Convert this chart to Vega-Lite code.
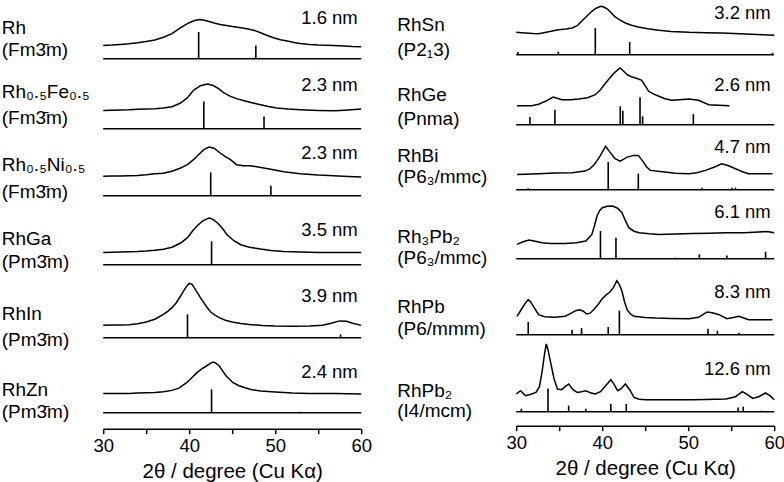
{
"$schema":"https://vega.github.io/schema/vega-lite/v6.json",
"padding":{"left":1.2,"top":2.7,"right":6,"bottom":6},
"config":{"font":"Liberation Sans","view":{"stroke":null},"axis":{"grid":false,"domainColor":"black","tickColor":"black","labelColor":"black","titleColor":"black","labelFontSize":18.5,"titleFontSize":20.5,"titleFontWeight":"normal","domainWidth":1.5,"tickWidth":1.5,"tickSize":5,"labelPadding":3,"titlePadding":6,"labelFlush":false}},
"datasets":{"d":[
{"s":"Rh","k":"p","x":[30,31,32,33,34,35,36,37,38,39,40,40.7,41.3,42,42.5,43,43.6,44.5,45.2,46,46.7,47.5,48.3,49,49.8,50.6,51.4,52.2,52.9,54,55,56.8,58,59,60],"y":[13.3,13.6,14.3,15,16,17.2,18.8,21.5,25,31,36,38.5,39.3,38,36.7,35.5,34.3,33,32,31,30,28.5,26,23.5,21,19,17.7,16.3,15.3,14.3,13.7,13.3,12.8,12.3,12]},
{"s":"Rh","k":"s","x":[41.1,47.75],"y":[26.7,13.3]},
{"s":"Rh","k":"t","size":"1.6 nm","l1":"Rh","l2":"(Fm3\u0304m)"},
{"s":"Fe","k":"p","x":[30,31,32,33,34,35,36,37,38,39,39.8,40.5,41.3,42.1,42.7,43.3,44,44.8,45.6,46.4,47.3,48.3,49.2,50.2,51.5,52.9,55,57,58.5,60],"y":[18.3,18.5,18.8,19,19.5,19.8,20,20.8,22,25.7,31,38.3,43,44.7,43.5,40.7,36,32.3,29.8,28,26,24,22.2,20.7,19.7,19,18.3,18,18.8,19.7]},
{"s":"Fe","k":"s","x":[41.7,48.7],"y":[27.3,12.3]},
{"s":"Fe","k":"t","size":"2.3 nm","l1":"Rh\u2080.\u2085Fe\u2080.\u2085","l2":"(Fm3\u0304m)"},
{"s":"Ni","k":"p","x":[30,31,32,33,34,35,36,37,38,39,39.8,40.5,41.2,41.7,42.3,42.9,43.6,44.2,44.8,45.5,46.3,47,47.5,48.5,49.8,51,52.9,55,56.8,58.5,60],"y":[19.4,19.6,19.8,20,20.3,21,22,22.5,24.5,27.7,31,36,42,46,48.7,47.5,42.7,39,36,31,30,30,29.4,28,26,24,22,20.7,20,19.3,18.7]},
{"s":"Ni","k":"s","x":[42.5,49.5],"y":[23.3,10]},
{"s":"Ni","k":"t","size":"2.3 nm","l1":"Rh\u2080.\u2085Ni\u2080.\u2085","l2":"(Fm3\u0304m)"},
{"s":"Ga","k":"p","x":[30,31,32,33,34,35,36,37,38,39,39.8,40.5,41,41.5,42.1,42.4,42.8,43.3,43.9,44.4,45.2,46,47,48.3,49.5,51,53,55,57,60],"y":[12.3,12.5,12.7,13,13.3,13.8,14.5,15.5,17.5,21.7,27,35,39.5,43.3,46,46.7,45,41.7,36,30,24,20,17.5,15.7,14.3,13.3,12.7,12.3,12.3,12.3]},
{"s":"Ga","k":"s","x":[42.6],"y":[23.3]},
{"s":"Ga","k":"t","size":"3.5 nm","l1":"RhGa","l2":"(Pm3\u0304m)"},
{"s":"In","k":"p","x":[30,31,32,33,34,35,36,37,37.5,38,38.5,39,39.3,39.6,39.8,40,40.3,40.5,40.8,41,41.3,41.7,42.1,42.5,43,43.5,44.2,45,46,47,48.5,50,52,54,55.5,56.5,57.5,58.3,59,60],"y":[12.5,12.6,12.8,13,14,15.7,18.5,23.3,26.3,30,35,41.7,46,50,52.5,54.3,53.5,51,47,44.3,40,35,30,25.7,22.5,20,17.5,15.7,14.3,13.3,12.3,11.7,11.5,11.7,12.5,14.5,16.8,16.5,14.5,12.3]},
{"s":"In","k":"s","x":[39.8,57.6],"y":[23.3,3.3]},
{"s":"In","k":"t","size":"3.9 nm","l1":"RhIn","l2":"(Pm3\u0304m)"},
{"s":"Zn","k":"p","x":[30,31,32,33,34,35,36,37,38,38.8,39.7,40.3,40.9,41.5,42,42.5,42.8,43.1,43.5,43.9,44.3,45.1,45.8,46.5,47.3,48.3,50,52,54,57,60],"y":[19.3,19.3,19.3,19.3,19.6,20,20.3,21,22.3,24.5,30,35,40,44,46.7,49.5,50.7,49.5,46.7,41.5,36.7,30,27,25,23,21.7,20.7,19.8,19.3,19.3,18.7]},
{"s":"Zn","k":"s","x":[42.6,52.9],"y":[23.3,1]},
{"s":"Zn","k":"t","size":"2.4 nm","l1":"RhZn","l2":"(Pm3\u0304m)"},
{"s":"Sn","k":"p","x":[30,31,32,32.6,33.5,34.9,35.8,36.5,37.1,37.6,38.2,38.8,39.3,39.8,40.2,40.6,41,41.5,42.1,42.7,43.4,44.2,45.3,46.6,48,50.1,52,53.9,56,58,60],"y":[22.4,21.8,21.2,21,22.5,25,25.8,26.7,29,33.4,38.5,43.4,46.5,48.4,47.7,45.7,42.5,37.7,34.5,31.7,29.5,27.7,26,24.4,23.3,22.4,22,21.7,21,20.3,19.4]},
{"s":"Sn","k":"s","x":[30.2,34.9,39.2,43.2,59.8],"y":[2.7,3,26.7,12.7,2]},
{"s":"Sn","k":"t","size":"3.2 nm","l1":"RhSn","l2":"(P2\u20813)"},
{"s":"Ge","k":"p","x":[30.1,31,31.8,32.6,33.4,34.3,35.3,36.3,37.3,38.3,39.2,39.8,40.4,41.3,41.7,42.1,42.5,42.9,43.4,43.9,44.6,45,45.4,46,46.6,47.3,48.1,49,50.1,51.2,52.4,53.5,54.8],"y":[19,19,19,20.5,23.4,27.7,25,25,25.7,27,30,35,41.7,51,54,56.7,53.5,50,48,46.7,44.4,39,33.4,30.5,28.4,26,24.4,25,25.7,24.4,20,19.5,19]},
{"s":"Ge","k":"s","x":[31.6,34.5,42.1,42.4,44.4,44.7,50.6],"y":[7.7,15,18.4,14,27.4,8.4,10.7]},
{"s":"Ge","k":"t","size":"2.6 nm","l1":"RhGe","l2":" (Pnma)"},
{"s":"Bi","k":"p","x":[30.1,31,32.6,34.5,36.5,38,38.5,39,39.4,39.8,40.1,40.4,40.9,41.5,42.1,42.5,42.9,43.7,44.2,44.8,45.2,45.6,47.3,48.5,50.1,51,52,53,53.9,54.7,55.5,56.3,57,58.5,59.8],"y":[15.3,15.5,16,16.6,17,18.6,20.5,24.3,29,34.3,39,43.3,37.6,31,28.6,30.5,32.6,34.3,34.3,27.6,22.5,19.3,17.6,16.5,16,17,19.3,22.5,26,24,21,18,16,16,16]},
{"s":"Bi","k":"s","x":[31.4,40.7,44.2,51.6,55.1,55.5],"y":[1.5,27.6,16,2,2,2]},
{"s":"Bi","k":"t","size":"4.7 nm","l1":"RhBi","l2":"(P6\u2083/mmc)"},
{"s":"R3P2","k":"p","x":[30.1,30.8,31.5,32.2,33,34,35.7,37,38.1,38.8,39.1,39.4,39.7,40,40.6,41.2,41.8,42.3,42.7,43.1,43.7,44.3,45.5,46.6,48.5,50.5,52.5,54.4,56.5,58.2,59.2,60],"y":[14.3,17,18.7,17.5,16,15.3,15.3,16,17.7,24.3,33,42.7,48,51,52.5,52.7,50.5,46,38,31,27.5,26,25,24.3,24.7,25.3,25.5,26,26,26.7,27.3,26]},
{"s":"R3P2","k":"s","x":[39.8,41.6,48.5,51.3,54.5,59],"y":[27.7,21,1,4.3,3.3,7]},
{"s":"R3P2","k":"t","size":"6.1 nm","l1":"Rh\u2083Pb\u2082","l2":"(P6\u2083/mmc)"},
{"s":"RP","k":"p","x":[30.1,30.7,31.1,31.4,31.7,32,32.6,33.3,34.5,35.7,36.3,36.9,37.4,37.8,38.2,38.6,39,39.5,40,40.5,40.9,41.3,41.7,42,42.3,42.6,42.9,43.3,43.7,45,46.2,48,50.1,51.2,51.8,52.2,52.8,53.6,54.5,55.4,55.9,56.4,57,58.5,59.8],"y":[18.4,26.7,32,35,32.5,28.4,20,18,17.4,18.4,21,24,25,23.5,20.7,21.5,25,30,36,40,42.7,47,54,50,43.4,33,25,20.5,18.4,17.2,16.7,16.3,16,17.4,20.5,22.7,22,20,16,17.5,18.4,17,15,15,15]},
{"s":"RP","k":"s","x":[31.4,36.5,37.6,40.7,42,52.3,53.4,55.9],"y":[12.7,5,6.7,7.7,24,6,4,2]},
{"s":"RP","k":"t","size":"8.3 nm","l1":"RhPb","l2":"(P6/mmm)"},
{"s":"RP2","k":"p","x":[30,30.5,31.1,31.7,32.3,32.7,33,33.3,33.5,33.7,34,34.4,34.8,35.3,35.7,36.1,36.6,37.1,37.6,38.1,38.6,39.2,39.8,40.4,41,41.4,41.8,42.2,42.7,43.2,43.7,44.3,45.1,47,50.5,52,54.4,55.5,56.3,56.9,57.5,58.2,59,59.5,60],"y":[17.7,21,16,17.5,19.3,25,39.3,58,67.7,62,49.3,33,22.7,22,25,27.7,22,19.3,20,21,19,17.7,20,26,32,27,21,23,27.7,22,14.3,12.5,12,12,12,12.3,12.7,15,20,17,13.3,15,18.7,16,12]},
{"s":"RP2","k":"s","x":[30.6,33.7,36.1,38.1,41,42.8,55.8,56.4,58.6],"y":[3,23.3,6,3,7.7,7.7,4.3,5,1]},
{"s":"RP2","k":"t","size":"12.6 nm","l1":"RhPb\u2082","l2":"(I4/mcm)"}
]},
"hconcat":[
{"vconcat":[
{"height":50,"width":258,"data":{"name":"d"},"transform":[{"filter":"datum.s==='Rh'"}],"layer":[
{"transform":[{"filter":"datum.k==='p'"},{"flatten":["x","y"]}],"mark":{"type":"line","stroke":"black","strokeWidth":1.5},"encoding":{"x":{"field":"x","type":"quantitative","scale":{"domain":[30,60],"nice":false,"zero":false},"axis":null},"y":{"field":"y","type":"quantitative","scale":{"domain":[0,50],"nice":false},"axis":null}}},
{"transform":[{"filter":"datum.k==='s'"},{"flatten":["x","y"]}],"mark":{"type":"rule","stroke":"black","strokeWidth":1.6},"encoding":{"x":{"field":"x","type":"quantitative","axis":null},"y":{"field":"y","type":"quantitative","axis":null},"y2":{"datum":0}}},
{"transform":[{"filter":"datum.k==='t'"}],"mark":{"type":"rule","stroke":"black","strokeWidth":1.6},"encoding":{"y":{"datum":0,"type":"quantitative","axis":null}}},
{"transform":[{"filter":"datum.k==='t'"}],"mark":{"type":"text","align":"right","baseline":"middle","fontSize":18.5},"encoding":{"text":{"field":"size","type":"nominal"},"x":{"datum":59.6,"type":"quantitative","axis":null},"y":{"datum":41,"type":"quantitative","axis":null}}},
{"transform":[{"filter":"datum.k==='t'"}],"mark":{"type":"text","align":"left","baseline":"alphabetic","fontSize":19},"encoding":{"text":{"field":"l1","type":"nominal"},"x":{"datum":18.2,"type":"quantitative","axis":null},"y":{"datum":25,"type":"quantitative","axis":null}}},
{"transform":[{"filter":"datum.k==='t'"}],"mark":{"type":"text","align":"left","baseline":"alphabetic","fontSize":19},"encoding":{"text":{"field":"l2","type":"nominal"},"x":{"datum":18.2,"type":"quantitative","axis":null},"y":{"datum":2.2,"type":"quantitative","axis":null}}}
]},
{"height":70,"width":258,"data":{"name":"d"},"transform":[{"filter":"datum.s==='Fe'"}],"layer":[
{"transform":[{"filter":"datum.k==='p'"},{"flatten":["x","y"]}],"mark":{"type":"line","stroke":"black","strokeWidth":1.5},"encoding":{"x":{"field":"x","type":"quantitative","scale":{"domain":[30,60],"nice":false,"zero":false},"axis":null},"y":{"field":"y","type":"quantitative","scale":{"domain":[0,70],"nice":false},"axis":null}}},
{"transform":[{"filter":"datum.k==='s'"},{"flatten":["x","y"]}],"mark":{"type":"rule","stroke":"black","strokeWidth":1.6},"encoding":{"x":{"field":"x","type":"quantitative","axis":null},"y":{"field":"y","type":"quantitative","axis":null},"y2":{"datum":0}}},
{"transform":[{"filter":"datum.k==='t'"}],"mark":{"type":"rule","stroke":"black","strokeWidth":1.6},"encoding":{"y":{"datum":0,"type":"quantitative","axis":null}}},
{"transform":[{"filter":"datum.k==='t'"}],"mark":{"type":"text","align":"right","baseline":"middle","fontSize":18.5},"encoding":{"text":{"field":"size","type":"nominal"},"x":{"datum":59.6,"type":"quantitative","axis":null},"y":{"datum":44,"type":"quantitative","axis":null}}},
{"transform":[{"filter":"datum.k==='t'"}],"mark":{"type":"text","align":"left","baseline":"alphabetic","fontSize":19},"encoding":{"text":{"field":"l1","type":"nominal"},"x":{"datum":18.2,"type":"quantitative","axis":null},"y":{"datum":31,"type":"quantitative","axis":null}}},
{"transform":[{"filter":"datum.k==='t'"}],"mark":{"type":"text","align":"left","baseline":"alphabetic","fontSize":19},"encoding":{"text":{"field":"l2","type":"nominal"},"x":{"datum":18.2,"type":"quantitative","axis":null},"y":{"datum":4.5,"type":"quantitative","axis":null}}}
]},
{"height":67,"width":258,"data":{"name":"d"},"transform":[{"filter":"datum.s==='Ni'"}],"layer":[
{"transform":[{"filter":"datum.k==='p'"},{"flatten":["x","y"]}],"mark":{"type":"line","stroke":"black","strokeWidth":1.5},"encoding":{"x":{"field":"x","type":"quantitative","scale":{"domain":[30,60],"nice":false,"zero":false},"axis":null},"y":{"field":"y","type":"quantitative","scale":{"domain":[0,67],"nice":false},"axis":null}}},
{"transform":[{"filter":"datum.k==='s'"},{"flatten":["x","y"]}],"mark":{"type":"rule","stroke":"black","strokeWidth":1.6},"encoding":{"x":{"field":"x","type":"quantitative","axis":null},"y":{"field":"y","type":"quantitative","axis":null},"y2":{"datum":0}}},
{"transform":[{"filter":"datum.k==='t'"}],"mark":{"type":"rule","stroke":"black","strokeWidth":1.6},"encoding":{"y":{"datum":0,"type":"quantitative","axis":null}}},
{"transform":[{"filter":"datum.k==='t'"}],"mark":{"type":"text","align":"right","baseline":"middle","fontSize":18.5},"encoding":{"text":{"field":"size","type":"nominal"},"x":{"datum":59.6,"type":"quantitative","axis":null},"y":{"datum":42.7,"type":"quantitative","axis":null}}},
{"transform":[{"filter":"datum.k==='t'"}],"mark":{"type":"text","align":"left","baseline":"alphabetic","fontSize":19},"encoding":{"text":{"field":"l1","type":"nominal"},"x":{"datum":18.2,"type":"quantitative","axis":null},"y":{"datum":24.4,"type":"quantitative","axis":null}}},
{"transform":[{"filter":"datum.k==='t'"}],"mark":{"type":"text","align":"left","baseline":"alphabetic","fontSize":19},"encoding":{"text":{"field":"l2","type":"nominal"},"x":{"datum":18.2,"type":"quantitative","axis":null},"y":{"datum":-2.3,"type":"quantitative","axis":null}}}
]},
{"height":69,"width":258,"data":{"name":"d"},"transform":[{"filter":"datum.s==='Ga'"}],"layer":[
{"transform":[{"filter":"datum.k==='p'"},{"flatten":["x","y"]}],"mark":{"type":"line","stroke":"black","strokeWidth":1.5},"encoding":{"x":{"field":"x","type":"quantitative","scale":{"domain":[30,60],"nice":false,"zero":false},"axis":null},"y":{"field":"y","type":"quantitative","scale":{"domain":[0,69],"nice":false},"axis":null}}},
{"transform":[{"filter":"datum.k==='s'"},{"flatten":["x","y"]}],"mark":{"type":"rule","stroke":"black","strokeWidth":1.6},"encoding":{"x":{"field":"x","type":"quantitative","axis":null},"y":{"field":"y","type":"quantitative","axis":null},"y2":{"datum":0}}},
{"transform":[{"filter":"datum.k==='t'"}],"mark":{"type":"rule","stroke":"black","strokeWidth":1.6},"encoding":{"y":{"datum":0,"type":"quantitative","axis":null}}},
{"transform":[{"filter":"datum.k==='t'"}],"mark":{"type":"text","align":"right","baseline":"middle","fontSize":18.5},"encoding":{"text":{"field":"size","type":"nominal"},"x":{"datum":59.6,"type":"quantitative","axis":null},"y":{"datum":35,"type":"quantitative","axis":null}}},
{"transform":[{"filter":"datum.k==='t'"}],"mark":{"type":"text","align":"left","baseline":"alphabetic","fontSize":19},"encoding":{"text":{"field":"l1","type":"nominal"},"x":{"datum":18.2,"type":"quantitative","axis":null},"y":{"datum":19.5,"type":"quantitative","axis":null}}},
{"transform":[{"filter":"datum.k==='t'"}],"mark":{"type":"text","align":"left","baseline":"alphabetic","fontSize":19},"encoding":{"text":{"field":"l2","type":"nominal"},"x":{"datum":18.2,"type":"quantitative","axis":null},"y":{"datum":-3,"type":"quantitative","axis":null}}}
]},
{"height":73,"width":258,"data":{"name":"d"},"transform":[{"filter":"datum.s==='In'"}],"layer":[
{"transform":[{"filter":"datum.k==='p'"},{"flatten":["x","y"]}],"mark":{"type":"line","stroke":"black","strokeWidth":1.5},"encoding":{"x":{"field":"x","type":"quantitative","scale":{"domain":[30,60],"nice":false,"zero":false},"axis":null},"y":{"field":"y","type":"quantitative","scale":{"domain":[0,73],"nice":false},"axis":null}}},
{"transform":[{"filter":"datum.k==='s'"},{"flatten":["x","y"]}],"mark":{"type":"rule","stroke":"black","strokeWidth":1.6},"encoding":{"x":{"field":"x","type":"quantitative","axis":null},"y":{"field":"y","type":"quantitative","axis":null},"y2":{"datum":0}}},
{"transform":[{"filter":"datum.k==='t'"}],"mark":{"type":"rule","stroke":"black","strokeWidth":1.6},"encoding":{"y":{"datum":0,"type":"quantitative","axis":null}}},
{"transform":[{"filter":"datum.k==='t'"}],"mark":{"type":"text","align":"right","baseline":"middle","fontSize":18.5},"encoding":{"text":{"field":"size","type":"nominal"},"x":{"datum":59.6,"type":"quantitative","axis":null},"y":{"datum":41.7,"type":"quantitative","axis":null}}},
{"transform":[{"filter":"datum.k==='t'"}],"mark":{"type":"text","align":"left","baseline":"alphabetic","fontSize":19},"encoding":{"text":{"field":"l1","type":"nominal"},"x":{"datum":18.2,"type":"quantitative","axis":null},"y":{"datum":17.5,"type":"quantitative","axis":null}}},
{"transform":[{"filter":"datum.k==='t'"}],"mark":{"type":"text","align":"left","baseline":"alphabetic","fontSize":19},"encoding":{"text":{"field":"l2","type":"nominal"},"x":{"datum":18.2,"type":"quantitative","axis":null},"y":{"datum":-8.5,"type":"quantitative","axis":null}}}
]},
{"height":75,"width":258,"data":{"name":"d"},"transform":[{"filter":"datum.s==='Zn'"}],"layer":[
{"transform":[{"filter":"datum.k==='p'"},{"flatten":["x","y"]}],"mark":{"type":"line","stroke":"black","strokeWidth":1.5},"encoding":{"x":{"field":"x","type":"quantitative","scale":{"domain":[30,60],"nice":false,"zero":false},"axis":{"values":[30,35,40,45,50,55,60],"labelExpr":"datum.value % 10 === 0 ? datum.label : ''","title":"2θ / degree (Cu Kα)","offset":16}},"y":{"field":"y","type":"quantitative","scale":{"domain":[0,75],"nice":false},"axis":null}}},
{"transform":[{"filter":"datum.k==='s'"},{"flatten":["x","y"]}],"mark":{"type":"rule","stroke":"black","strokeWidth":1.6},"encoding":{"x":{"field":"x","type":"quantitative"},"y":{"field":"y","type":"quantitative","axis":null},"y2":{"datum":0}}},
{"transform":[{"filter":"datum.k==='t'"}],"mark":{"type":"rule","stroke":"black","strokeWidth":1.6},"encoding":{"y":{"datum":0,"type":"quantitative","axis":null}}},
{"transform":[{"filter":"datum.k==='t'"}],"mark":{"type":"text","align":"right","baseline":"middle","fontSize":18.5},"encoding":{"text":{"field":"size","type":"nominal"},"x":{"datum":59.6,"type":"quantitative"},"y":{"datum":40.7,"type":"quantitative","axis":null}}},
{"transform":[{"filter":"datum.k==='t'"}],"mark":{"type":"text","align":"left","baseline":"alphabetic","fontSize":19},"encoding":{"text":{"field":"l1","type":"nominal"},"x":{"datum":18.2,"type":"quantitative"},"y":{"datum":16.5,"type":"quantitative","axis":null}}},
{"transform":[{"filter":"datum.k==='t'"}],"mark":{"type":"text","align":"left","baseline":"alphabetic","fontSize":19},"encoding":{"text":{"field":"l2","type":"nominal"},"x":{"datum":18.2,"type":"quantitative"},"y":{"datum":-5.8,"type":"quantitative","axis":null}}}
]}
],"spacing":0,"bounds":"flush"},
{"vconcat":[
{"height":46,"width":258,"data":{"name":"d"},"transform":[{"filter":"datum.s==='Sn'"}],"layer":[
{"transform":[{"filter":"datum.k==='p'"},{"flatten":["x","y"]}],"mark":{"type":"line","stroke":"black","strokeWidth":1.5},"encoding":{"x":{"field":"x","type":"quantitative","scale":{"domain":[30,60],"nice":false,"zero":false},"axis":null},"y":{"field":"y","type":"quantitative","scale":{"domain":[0,46],"nice":false},"axis":null}}},
{"transform":[{"filter":"datum.k==='s'"},{"flatten":["x","y"]}],"mark":{"type":"rule","stroke":"black","strokeWidth":1.6},"encoding":{"x":{"field":"x","type":"quantitative","axis":null},"y":{"field":"y","type":"quantitative","axis":null},"y2":{"datum":0}}},
{"transform":[{"filter":"datum.k==='t'"}],"mark":{"type":"rule","stroke":"black","strokeWidth":1.6},"encoding":{"y":{"datum":0,"type":"quantitative","axis":null}}},
{"transform":[{"filter":"datum.k==='t'"}],"mark":{"type":"text","align":"right","baseline":"middle","fontSize":18.5},"encoding":{"text":{"field":"size","type":"nominal"},"x":{"datum":59.6,"type":"quantitative","axis":null},"y":{"datum":41.7,"type":"quantitative","axis":null}}},
{"transform":[{"filter":"datum.k==='t'"}],"mark":{"type":"text","align":"left","baseline":"alphabetic","fontSize":19},"encoding":{"text":{"field":"l1","type":"nominal"},"x":{"datum":16.17,"type":"quantitative","axis":null},"y":{"datum":23.4,"type":"quantitative","axis":null}}},
{"transform":[{"filter":"datum.k==='t'"}],"mark":{"type":"text","align":"left","baseline":"alphabetic","fontSize":19},"encoding":{"text":{"field":"l2","type":"nominal"},"x":{"datum":16.17,"type":"quantitative","axis":null},"y":{"datum":-1.6,"type":"quantitative","axis":null}}}
]},
{"height":70,"width":258,"data":{"name":"d"},"transform":[{"filter":"datum.s==='Ge'"}],"layer":[
{"transform":[{"filter":"datum.k==='p'"},{"flatten":["x","y"]}],"mark":{"type":"line","stroke":"black","strokeWidth":1.5},"encoding":{"x":{"field":"x","type":"quantitative","scale":{"domain":[30,60],"nice":false,"zero":false},"axis":null},"y":{"field":"y","type":"quantitative","scale":{"domain":[0,70],"nice":false},"axis":null}}},
{"transform":[{"filter":"datum.k==='s'"},{"flatten":["x","y"]}],"mark":{"type":"rule","stroke":"black","strokeWidth":1.6},"encoding":{"x":{"field":"x","type":"quantitative","axis":null},"y":{"field":"y","type":"quantitative","axis":null},"y2":{"datum":0}}},
{"transform":[{"filter":"datum.k==='t'"}],"mark":{"type":"rule","stroke":"black","strokeWidth":1.6},"encoding":{"y":{"datum":0,"type":"quantitative","axis":null}}},
{"transform":[{"filter":"datum.k==='t'"}],"mark":{"type":"text","align":"right","baseline":"middle","fontSize":18.5},"encoding":{"text":{"field":"size","type":"nominal"},"x":{"datum":59.6,"type":"quantitative","axis":null},"y":{"datum":40,"type":"quantitative","axis":null}}},
{"transform":[{"filter":"datum.k==='t'"}],"mark":{"type":"text","align":"left","baseline":"alphabetic","fontSize":19},"encoding":{"text":{"field":"l1","type":"nominal"},"x":{"datum":16.17,"type":"quantitative","axis":null},"y":{"datum":23.4,"type":"quantitative","axis":null}}},
{"transform":[{"filter":"datum.k==='t'"}],"mark":{"type":"text","align":"left","baseline":"alphabetic","fontSize":19},"encoding":{"text":{"field":"l2","type":"nominal"},"x":{"datum":16.17,"type":"quantitative","axis":null},"y":{"datum":-0.6,"type":"quantitative","axis":null}}}
]},
{"height":65,"width":258,"data":{"name":"d"},"transform":[{"filter":"datum.s==='Bi'"}],"layer":[
{"transform":[{"filter":"datum.k==='p'"},{"flatten":["x","y"]}],"mark":{"type":"line","stroke":"black","strokeWidth":1.5},"encoding":{"x":{"field":"x","type":"quantitative","scale":{"domain":[30,60],"nice":false,"zero":false},"axis":null},"y":{"field":"y","type":"quantitative","scale":{"domain":[0,65],"nice":false},"axis":null}}},
{"transform":[{"filter":"datum.k==='s'"},{"flatten":["x","y"]}],"mark":{"type":"rule","stroke":"black","strokeWidth":1.6},"encoding":{"x":{"field":"x","type":"quantitative","axis":null},"y":{"field":"y","type":"quantitative","axis":null},"y2":{"datum":0}}},
{"transform":[{"filter":"datum.k==='t'"}],"mark":{"type":"rule","stroke":"black","strokeWidth":1.6},"encoding":{"y":{"datum":0,"type":"quantitative","axis":null}}},
{"transform":[{"filter":"datum.k==='t'"}],"mark":{"type":"text","align":"right","baseline":"middle","fontSize":18.5},"encoding":{"text":{"field":"size","type":"nominal"},"x":{"datum":59.6,"type":"quantitative","axis":null},"y":{"datum":42.6,"type":"quantitative","axis":null}}},
{"transform":[{"filter":"datum.k==='t'"}],"mark":{"type":"text","align":"left","baseline":"alphabetic","fontSize":19},"encoding":{"text":{"field":"l1","type":"nominal"},"x":{"datum":16.17,"type":"quantitative","axis":null},"y":{"datum":27.3,"type":"quantitative","axis":null}}},
{"transform":[{"filter":"datum.k==='t'"}],"mark":{"type":"text","align":"left","baseline":"alphabetic","fontSize":19},"encoding":{"text":{"field":"l2","type":"nominal"},"x":{"datum":16.17,"type":"quantitative","axis":null},"y":{"datum":6.3,"type":"quantitative","axis":null}}}
]},
{"height":69,"width":258,"data":{"name":"d"},"transform":[{"filter":"datum.s==='R3P2'"}],"layer":[
{"transform":[{"filter":"datum.k==='p'"},{"flatten":["x","y"]}],"mark":{"type":"line","stroke":"black","strokeWidth":1.5},"encoding":{"x":{"field":"x","type":"quantitative","scale":{"domain":[30,60],"nice":false,"zero":false},"axis":null},"y":{"field":"y","type":"quantitative","scale":{"domain":[0,69],"nice":false},"axis":null}}},
{"transform":[{"filter":"datum.k==='s'"},{"flatten":["x","y"]}],"mark":{"type":"rule","stroke":"black","strokeWidth":1.6},"encoding":{"x":{"field":"x","type":"quantitative","axis":null},"y":{"field":"y","type":"quantitative","axis":null},"y2":{"datum":0}}},
{"transform":[{"filter":"datum.k==='t'"}],"mark":{"type":"rule","stroke":"black","strokeWidth":1.6},"encoding":{"y":{"datum":0,"type":"quantitative","axis":null}}},
{"transform":[{"filter":"datum.k==='t'"}],"mark":{"type":"text","align":"right","baseline":"middle","fontSize":18.5},"encoding":{"text":{"field":"size","type":"nominal"},"x":{"datum":59.6,"type":"quantitative","axis":null},"y":{"datum":46.7,"type":"quantitative","axis":null}}},
{"transform":[{"filter":"datum.k==='t'"}],"mark":{"type":"text","align":"left","baseline":"alphabetic","fontSize":19},"encoding":{"text":{"field":"l1","type":"nominal"},"x":{"datum":16.17,"type":"quantitative","axis":null},"y":{"datum":16,"type":"quantitative","axis":null}}},
{"transform":[{"filter":"datum.k==='t'"}],"mark":{"type":"text","align":"left","baseline":"alphabetic","fontSize":19},"encoding":{"text":{"field":"l2","type":"nominal"},"x":{"datum":16.17,"type":"quantitative","axis":null},"y":{"datum":-5.7,"type":"quantitative","axis":null}}}
]},
{"height":76,"width":258,"data":{"name":"d"},"transform":[{"filter":"datum.s==='RP'"}],"layer":[
{"transform":[{"filter":"datum.k==='p'"},{"flatten":["x","y"]}],"mark":{"type":"line","stroke":"black","strokeWidth":1.5},"encoding":{"x":{"field":"x","type":"quantitative","scale":{"domain":[30,60],"nice":false,"zero":false},"axis":null},"y":{"field":"y","type":"quantitative","scale":{"domain":[0,76],"nice":false},"axis":null}}},
{"transform":[{"filter":"datum.k==='s'"},{"flatten":["x","y"]}],"mark":{"type":"rule","stroke":"black","strokeWidth":1.6},"encoding":{"x":{"field":"x","type":"quantitative","axis":null},"y":{"field":"y","type":"quantitative","axis":null},"y2":{"datum":0}}},
{"transform":[{"filter":"datum.k==='t'"}],"mark":{"type":"rule","stroke":"black","strokeWidth":1.6},"encoding":{"y":{"datum":0,"type":"quantitative","axis":null}}},
{"transform":[{"filter":"datum.k==='t'"}],"mark":{"type":"text","align":"right","baseline":"middle","fontSize":18.5},"encoding":{"text":{"field":"size","type":"nominal"},"x":{"datum":59.6,"type":"quantitative","axis":null},"y":{"datum":42.4,"type":"quantitative","axis":null}}},
{"transform":[{"filter":"datum.k==='t'"}],"mark":{"type":"text","align":"left","baseline":"alphabetic","fontSize":19},"encoding":{"text":{"field":"l1","type":"nominal"},"x":{"datum":16.17,"type":"quantitative","axis":null},"y":{"datum":21.7,"type":"quantitative","axis":null}}},
{"transform":[{"filter":"datum.k==='t'"}],"mark":{"type":"text","align":"left","baseline":"alphabetic","fontSize":19},"encoding":{"text":{"field":"l2","type":"nominal"},"x":{"datum":16.17,"type":"quantitative","axis":null},"y":{"datum":0,"type":"quantitative","axis":null}}}
]},
{"height":77,"width":258,"data":{"name":"d"},"transform":[{"filter":"datum.s==='RP2'"}],"layer":[
{"transform":[{"filter":"datum.k==='p'"},{"flatten":["x","y"]}],"mark":{"type":"line","stroke":"black","strokeWidth":1.5},"encoding":{"x":{"field":"x","type":"quantitative","scale":{"domain":[30,60],"nice":false,"zero":false},"axis":{"values":[30,35,40,45,50,55,60],"labelExpr":"datum.value % 10 === 0 ? datum.label : ''","title":"2θ / degree (Cu Kα)","offset":14}},"y":{"field":"y","type":"quantitative","scale":{"domain":[0,77],"nice":false},"axis":null}}},
{"transform":[{"filter":"datum.k==='s'"},{"flatten":["x","y"]}],"mark":{"type":"rule","stroke":"black","strokeWidth":1.6},"encoding":{"x":{"field":"x","type":"quantitative"},"y":{"field":"y","type":"quantitative","axis":null},"y2":{"datum":0}}},
{"transform":[{"filter":"datum.k==='t'"}],"mark":{"type":"rule","stroke":"black","strokeWidth":1.6},"encoding":{"y":{"datum":0,"type":"quantitative","axis":null}}},
{"transform":[{"filter":"datum.k==='t'"}],"mark":{"type":"text","align":"right","baseline":"middle","fontSize":18.5},"encoding":{"text":{"field":"size","type":"nominal"},"x":{"datum":59.6,"type":"quantitative"},"y":{"datum":42.6,"type":"quantitative","axis":null}}},
{"transform":[{"filter":"datum.k==='t'"}],"mark":{"type":"text","align":"left","baseline":"alphabetic","fontSize":19},"encoding":{"text":{"field":"l1","type":"nominal"},"x":{"datum":16.17,"type":"quantitative"},"y":{"datum":14.3,"type":"quantitative","axis":null}}},
{"transform":[{"filter":"datum.k==='t'"}],"mark":{"type":"text","align":"left","baseline":"alphabetic","fontSize":19},"encoding":{"text":{"field":"l2","type":"nominal"},"x":{"datum":16.17,"type":"quantitative"},"y":{"datum":-5,"type":"quantitative","axis":null}}}
]}
],"spacing":0,"bounds":"flush"}
],"spacing":413,"bounds":"flush"
}
